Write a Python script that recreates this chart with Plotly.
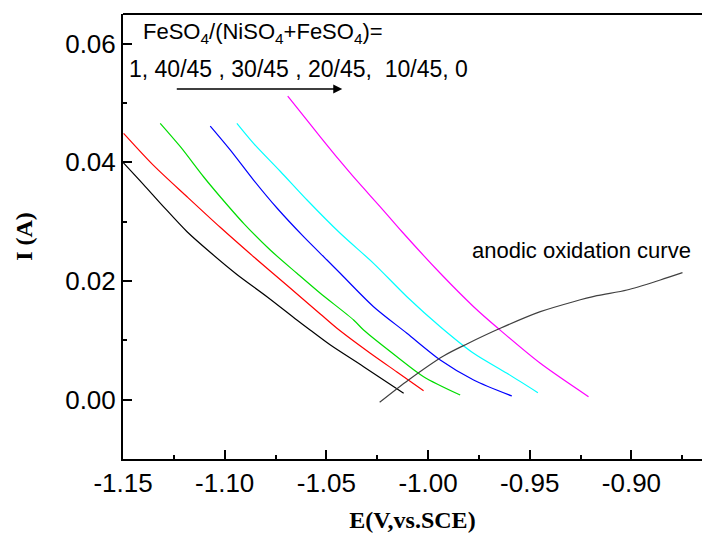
import plotly.graph_objects as go

# ---- data ----
ratio_labels = ["1", "40/45", "30/45", "20/45", "10/45", "0"]

x_r1 = [-1.1500, -1.1400, -1.1300, -1.1185, -1.1070, -1.0940, -1.0792, -1.0645, -1.0580, -1.0480, -1.0317, -1.0120]
y_r1 = [0.0400, 0.0363, 0.0325, 0.0283, 0.0248, 0.0211, 0.01735, 0.01343, 0.01174, 0.0092, 0.00556, 0.00108]

x_r2 = [-1.1497, -1.1350, -1.1185, -1.1022, -1.0858, -1.0694, -1.0530, -1.0448, -1.0284, -1.0153, -1.0022]
y_r2 = [0.04489, 0.03949, 0.03420, 0.02905, 0.02409, 0.01927, 0.01444, 0.01203, 0.00782, 0.00467, 0.00152]

x_r3 = [-1.1317, -1.1218, -1.1104, -1.1022, -1.0907, -1.0776, -1.0645, -1.0530, -1.0366, -1.0317, -1.0153, -1.0022, -0.9842]
y_r3 = [0.04657, 0.04263, 0.03757, 0.03420, 0.02972, 0.02522, 0.02130, 0.01793, 0.01343, 0.01174, 0.00724, 0.00388, 0.00079]

x_r4 = [-1.1071, -1.0972, -1.0858, -1.0743, -1.0612, -1.0497, -1.0432, -1.0268, -1.0104, -0.9940, -0.9776, -0.9588]
y_r4 = [0.04612, 0.04207, 0.03702, 0.03230, 0.02747, 0.02354, 0.02130, 0.01567, 0.01119, 0.00669, 0.00332, 0.00062]

x_r5 = [-1.0940, -1.0858, -1.0727, -1.0595, -1.0432, -1.0268, -1.0104, -0.9940, -0.9776, -0.9612, -0.9460]
y_r5 = [0.04657, 0.04320, 0.03850, 0.03365, 0.02804, 0.02298, 0.01735, 0.01230, 0.00782, 0.00445, 0.00118]

x_r6 = [-1.0690, -1.0628, -1.0530, -1.0432, -1.0350, -1.0235, -1.0128, -0.9940, -0.9776, -0.9646, -0.9448, -0.9211]
y_r6 = [0.05117, 0.04850, 0.04431, 0.04020, 0.03690, 0.03250, 0.02830, 0.02130, 0.01567, 0.01174, 0.00613, 0.00050]

x_anodic = [-1.0238, -1.0096, -0.9924, -0.9809, -0.9645, -0.9448, -0.9285, -0.9170, -0.9022, -0.8858, -0.8749]
y_anodic = [-0.00044, 0.00332, 0.00736, 0.00939, 0.01203, 0.01483, 0.01651, 0.01752, 0.01848, 0.02017, 0.0214]

x_tickvals = [-1.15, -1.10, -1.05, -1.00, -0.95, -0.90]
x_ticktext = ["-1.15", "-1.10", "-1.05", "-1.00", "-0.95", "-0.90"]
y_tickvals = [0.00, 0.02, 0.04, 0.06]
y_ticktext = ["0.00", "0.02", "0.04", "0.06"]

series = [
    (x_r1, y_r1, "#000000"),
    (x_r2, y_r2, "#ff0000"),
    (x_r3, y_r3, "#00dd00"),
    (x_r4, y_r4, "#0000ff"),
    (x_r5, y_r5, "#00ffff"),
    (x_r6, y_r6, "#ff00ff"),
]

fig = go.Figure()
for (xs, ys, col), lab in zip(series, ratio_labels):
    fig.add_trace(go.Scatter(x=xs, y=ys, mode="lines", name=lab,
                             line=dict(color=col, width=1.2, shape="spline", smoothing=0.8),
                             showlegend=False))
fig.add_trace(go.Scatter(x=x_anodic, y=y_anodic, mode="lines", name="anodic oxidation curve",
                         line=dict(color="#404040", width=1.2, shape="spline", smoothing=0.8),
                         showlegend=False))

tick_font = dict(family="Arial, Liberation Sans, sans-serif", size=26, color="black")
title_font = dict(family="Liberation Serif, Times New Roman, serif", size=24, color="black", weight="bold")

fig.update_layout(
    width=702, height=538,
    margin=dict(l=123, r=0, t=14, b=79),
    paper_bgcolor="white", plot_bgcolor="white",
    xaxis=dict(
        range=[-1.15, -0.8653], showgrid=False, zeroline=False,
        showline=True, linecolor="black", linewidth=2,
        ticks="inside", ticklen=9, tickwidth=1.5, tickcolor="black",
        tickmode="array", tickvals=x_tickvals, ticktext=x_ticktext,
        tickfont=tick_font,
        minor=dict(ticks="inside", ticklen=4, tickwidth=1.5, tickcolor="black",
                   tickmode="linear", tick0=-1.15, dtick=0.025, showgrid=False),
        title=dict(text="E(V,vs.SCE)", font=title_font, standoff=14),
    ),
    yaxis=dict(
        range=[-0.01, 0.065], showgrid=False, zeroline=False,
        showline=True, linecolor="black", linewidth=2,
        ticks="inside", ticklen=9, tickwidth=1.5, tickcolor="black",
        tickmode="array", tickvals=y_tickvals, ticktext=y_ticktext,
        tickfont=tick_font,
        minor=dict(ticks="inside", ticklen=4, tickwidth=1.5, tickcolor="black",
                   tickmode="linear", tick0=-0.01, dtick=0.01, showgrid=False),
        title=dict(text="I (A)", font=title_font, standoff=26),
    ),
    shapes=[dict(type="line", xref="paper", yref="paper", x0=0, x1=1, y0=1, y1=1,
                 line=dict(color="black", width=2))],
)

ann_font = dict(family="Arial, Liberation Sans, sans-serif", size=22, color="black")
ann_font2 = dict(family="Arial, Liberation Sans, sans-serif", size=23, color="black")
fig.add_annotation(x=-1.141, y=0.0618, xref="x", yref="y", xanchor="left", yanchor="middle",
                   text="FeSO<sub>4</sub>/(NiSO<sub>4</sub>+FeSO<sub>4</sub>)=",
                   showarrow=False, font=ann_font)
fig.add_annotation(x=-1.1479, y=0.0557, xref="x", yref="y", xanchor="left", yanchor="middle",
                   text=ratio_labels[0] + ", " + " , ".join(ratio_labels[1:4]) + ",\u00a0 " + ", ".join(ratio_labels[4:]),
                   showarrow=False, font=ann_font2)
fig.add_annotation(x=-1.0422, y=0.05235, ax=-1.1243, ay=0.05235, xref="x", yref="y",
                   axref="x", ayref="y", text="", showarrow=True,
                   arrowhead=2, arrowsize=1.2, arrowwidth=1.5, arrowcolor="black")
fig.add_annotation(x=-0.9795, y=0.0252, xref="x", yref="y", xanchor="left", yanchor="middle",
                   text="anodic oxidation curve", showarrow=False, font=ann_font)

fig.write_html("out.html")
